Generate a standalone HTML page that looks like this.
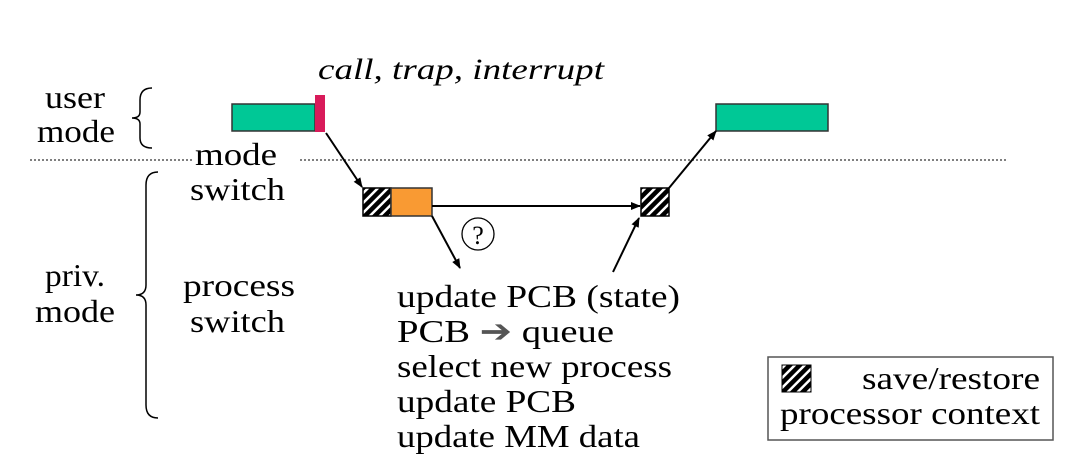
<!DOCTYPE html>
<html><head><style>
body{margin:0;background:#fff;}
text{font-family:"Liberation Serif","Times New Roman",serif;}
</style></head><body>
<svg width="1076" height="469" viewBox="0 0 1076 469" style="display:block">
<defs>
<pattern id="h" width="7" height="7" patternUnits="userSpaceOnUse" patternTransform="rotate(45)">
<rect width="7" height="7" fill="#000"/><rect width="2.5" height="7" fill="#fff"/>
</pattern>
<marker id="a" markerWidth="10" markerHeight="8" refX="9" refY="4" orient="auto" markerUnits="userSpaceOnUse">
<path d="M0,0 L10,4 L0,8 z" fill="#000"/></marker>
</defs>
<g stroke="#555" stroke-width="1.5" stroke-dasharray="2,2">
<line x1="30" y1="160" x2="192" y2="160"/>
<line x1="300" y1="160" x2="1006" y2="160"/>
</g>
<g font-size="32" fill="#000" font-family="Liberation Serif" lengthAdjust="spacingAndGlyphs">
<text x="45" y="108" textLength="60" lengthAdjust="spacingAndGlyphs">user</text>
<text x="37" y="142" textLength="78" lengthAdjust="spacingAndGlyphs">mode</text>
<text x="195" y="165" textLength="82" lengthAdjust="spacingAndGlyphs">mode</text>
<text x="190" y="200" textLength="95" lengthAdjust="spacingAndGlyphs">switch</text>
<text x="45" y="286" textLength="60" lengthAdjust="spacingAndGlyphs">priv.</text>
<text x="35" y="322" textLength="80" lengthAdjust="spacingAndGlyphs">mode</text>
<text x="183" y="296" textLength="112" lengthAdjust="spacingAndGlyphs">process</text>
<text x="190" y="332" textLength="95" lengthAdjust="spacingAndGlyphs">switch</text>
<text x="318" y="79" font-style="italic" font-size="30" textLength="286" lengthAdjust="spacingAndGlyphs">call, trap, interrupt</text>
<text x="397" y="307" textLength="283" lengthAdjust="spacingAndGlyphs">update PCB (state)</text>
<text x="397" y="342" textLength="217" lengthAdjust="spacingAndGlyphs">PCB <tspan fill="#555">➔</tspan> queue</text>
<text x="397" y="377" textLength="275" lengthAdjust="spacingAndGlyphs">select new process</text>
<text x="397" y="412" textLength="179" lengthAdjust="spacingAndGlyphs">update PCB</text>
<text x="397" y="447" textLength="243" lengthAdjust="spacingAndGlyphs">update MM data</text>
<text x="862" y="389" textLength="178" lengthAdjust="spacingAndGlyphs">save/restore</text>
<text x="780" y="424" textLength="260" lengthAdjust="spacingAndGlyphs">processor context</text>
</g>
<g fill="none" stroke="#000" stroke-width="1.5">
<path d="M152,88 Q140,88 140,100 L140,112 Q140,118 132,118 Q140,118 140,124 L140,138 Q140,148 152,148"/>
<path d="M158,172 Q146,172 146,185 L146,285 Q146,295 136,295 Q146,295 146,305 L146,405 Q146,418 158,418"/>
</g>
<rect x="232" y="104" width="83" height="27" fill="#00c896" stroke="#333" stroke-width="1.5"/>
<rect x="315" y="95" width="10" height="37" fill="#d81b5a"/>
<rect x="363" y="188" width="28" height="28" fill="url(#h)" stroke="#000" stroke-width="1.5"/>
<rect x="391" y="188" width="41" height="28" fill="#f99a33" stroke="#333" stroke-width="1.5"/>
<rect x="641" y="188" width="28" height="28" fill="url(#h)" stroke="#000" stroke-width="1.5"/>
<rect x="716" y="104" width="112" height="27" fill="#00c896" stroke="#333" stroke-width="1.5"/>
<g stroke="#000" stroke-width="2" marker-end="url(#a)">
<line x1="326" y1="133" x2="362" y2="187"/>
<line x1="432" y1="206" x2="640" y2="206"/>
<line x1="432" y1="216" x2="460" y2="268"/>
<line x1="613" y1="272" x2="639" y2="218"/>
<line x1="669" y1="188" x2="716" y2="131"/>
</g>
<circle cx="478" cy="234" r="16" fill="none" stroke="#000" stroke-width="1.3"/>
<text x="478" y="244" font-size="26" text-anchor="middle">?</text>
<rect x="768" y="357" width="285" height="83" fill="none" stroke="#555" stroke-width="1.5"/>
<rect x="782" y="365" width="29" height="27" fill="url(#h)" stroke="#000" stroke-width="1"/>
</svg>
</body></html>
